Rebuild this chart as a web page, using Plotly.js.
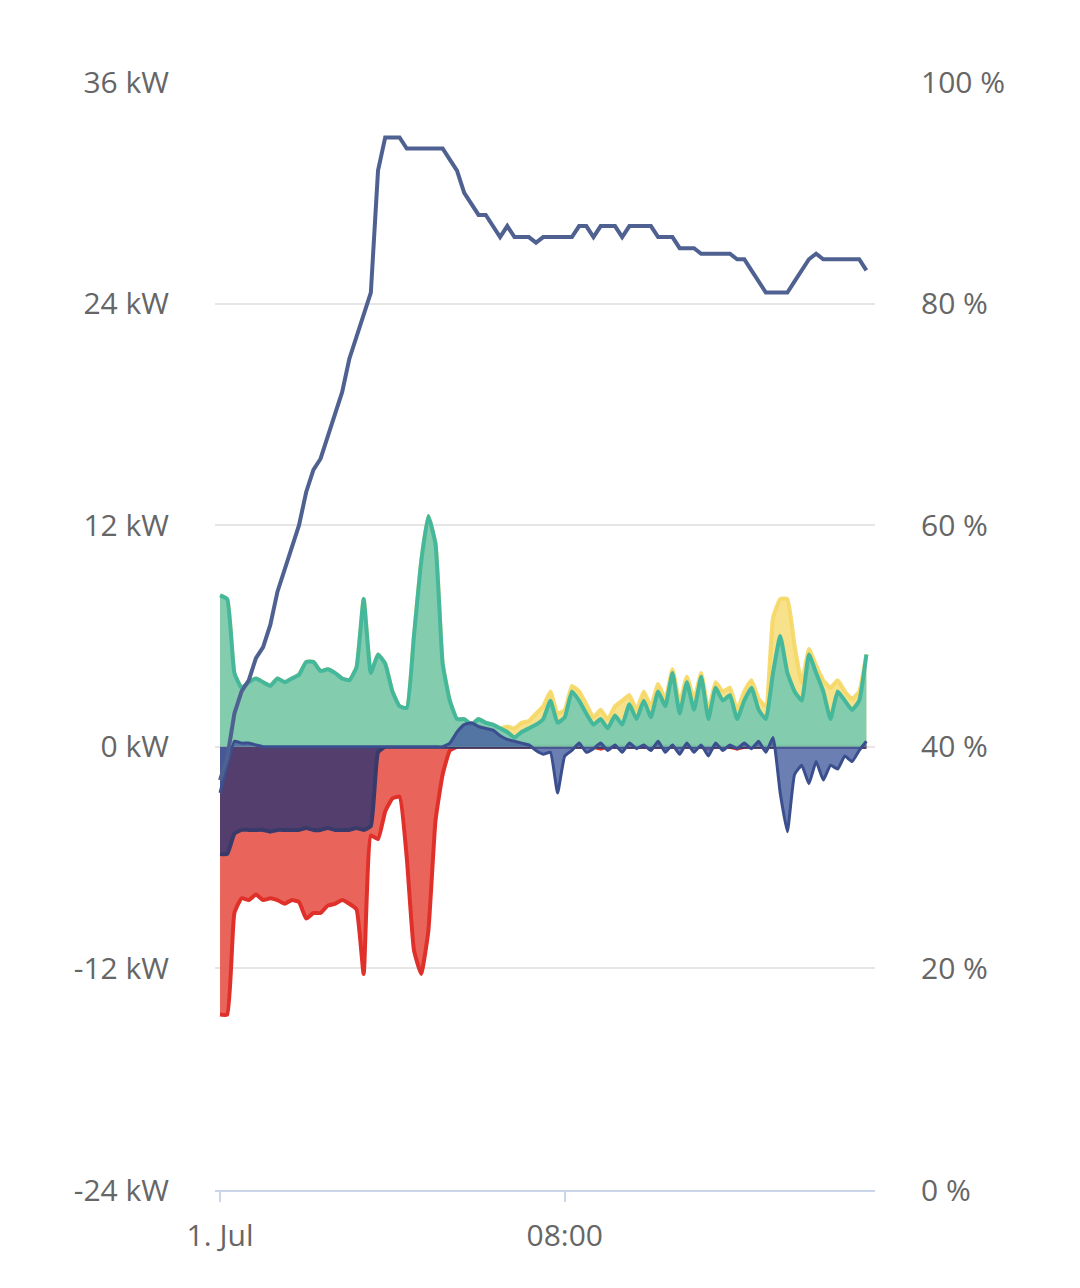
<!DOCTYPE html>
<html>
<head>
<meta charset="UTF-8">
<script src="https://cdn.plot.ly/plotly-3.0.1.min.js"></script>
<style>
  body { margin: 0; background: #fff; }
  #chart { width: 1080px; height: 1288px; }
</style>
</head>
<body>
<div id="chart"></div>
<script>
// 10-minute samples from 1 Jul 00:00
var startTime = '2023-07-01T00:00:00';
var stepMinutes = 10;

var soc = [37,39,43,45,46,48,49,51,54,56,58,60,63,65,66,68,70,72,75,77,79,81,92,95,95,95,94,94,94,94,
  94,94,93,92,90,89,88,88,87,86,87,86,86,86,85.5,86,86,86,86,86,87,87,86,87,87,87,86,87,87,87,
  87,86,86,86,85,85,85,84.5,84.5,84.5,84.5,84.5,84,84,83,82,81,81,81,81,82,83,84,84.5,84,84,84,84,84,84,83];

var solar = [8.2,8,4,3.2,3.5,3.7,3.5,3.3,3.7,3.5,3.7,3.9,4.6,4.6,4.1,4.2,4.0,3.7,3.6,4.3,8,4,5,4.5,3,2.2,2.1,6,10,12.5,
  11,4.5,2.5,1.5,1.5,1.2,1.5,1.3,1.2,1.0,0.8,0.5,0.8,1.0,1.2,1.5,2.5,1.3,1.6,3,2.5,1.8,1.2,1.5,1.0,1.7,1.2,2.3,1.5,2.5,
  1.6,3,2.2,4,1.8,3.5,2,3.8,1.5,3.2,2.5,2.8,1.5,2.5,3.2,2,1.5,4,6,4,3,2.5,5,4,3,1.5,3,2.5,2,2.5,5];

var solarTotal = [8.2,8,4,3.2,3.5,3.7,3.5,3.3,3.7,3.5,3.7,3.9,4.6,4.6,4.1,4.2,4.0,3.7,3.6,4.3,8,4,5,4.5,3,2.2,2.1,6,10,12.5,
  11,4.5,2.5,1.5,1.5,1.2,1.5,1.3,1.2,1.0,1.1,1.0,1.3,1.4,1.8,2.2,3.0,1.8,2.0,3.3,3.0,2.3,1.6,2.0,1.5,2.2,2.5,2.8,2.0,3.0,
  2.2,3.4,2.6,4.2,2.4,3.8,2.6,4.0,2.0,3.5,3.0,3.2,2.0,3.0,3.6,2.6,2.2,7,8,8,5.5,3.5,5.3,4.4,3.6,3.2,3.6,3,2.6,3,5];

var battery = [-2.5,-1,0.3,0.2,0.2,0.1,0,0,0,0,0,0,0,0,0,0,0,0,0,0,0,0,0,0,0,0,0,0,0,0,
  0,0,0.2,0.8,1.2,1.3,1.1,1.0,0.9,0.6,0.4,0.3,0.2,0.1,-0.2,-0.4,-0.3,-2.5,-0.5,-0.2,0.2,-0.3,-0.1,0.2,-0.2,0.1,-0.3,0.2,-0.1,0.1,
  -0.2,0.3,-0.3,0.1,-0.4,0.2,-0.3,0.1,-0.5,0.2,-0.2,0.1,-0.1,0.2,-0.1,0.3,-0.3,0.5,-2.5,-4.6,-1.5,-1,-2,-0.8,-1.8,-1,-1.2,-0.5,-0.8,-0.2,0.3];

var house = [-5.8,-5.8,-4.7,-4.5,-4.5,-4.5,-4.5,-4.6,-4.5,-4.5,-4.5,-4.5,-4.4,-4.5,-4.5,-4.4,-4.5,-4.5,-4.5,-4.4,-4.5,-4.3,-0.3,0,0,0,0,0,0,0,
  0,0,0,0,0,0,0,0,0,0,0,0,0,0,0,0,0,0,0,0,0,0,0,0,0,0,0,0,0,0,
  0,0,0,0,0,0,0,0,0,0,0,0,0,0,0,0,0,0,0,0,0,0,0,0,0,0,0,0,0,0,0];

var grid = [-14.5,-14.5,-9,-8.2,-8.3,-8,-8.3,-8.2,-8.3,-8.5,-8.3,-8.4,-9.3,-9,-9,-8.6,-8.5,-8.3,-8.5,-8.8,-12.3,-4.8,-5,-3.5,-2.8,-2.7,-6,-11,-12.3,-10,
  -4,-1.5,-0.2,0,0,0,0,0,0,0,0,0,0,0,0,0,0,0,0,0,0,0,0,-0.1,0,0,0,0,0,0,
  0,0,0,0,0,0,0,0,-0.1,0,0,0,-0.1,0,0,0,0,0,0,0,0,0,0,0,0,0,0,0,0,0,0];

var t0 = new Date(startTime).getTime();
var times = soc.map((_, i) => {
  var d = new Date(t0 + i * stepMinutes * 60000);
  var p = n => String(n).padStart(2, '0');
  return '2023-07-01 ' + p(d.getHours()) + ':' + p(d.getMinutes());
});

function area(y, line, fill, w) {
  return { x: times, y: y, type: 'scatter', mode: 'lines', fill: 'tozeroy',
    fillcolor: fill, line: { color: line, width: w || 4, shape: 'spline', smoothing: 0.4 }, hoverinfo: 'skip' };
}

var traces = [
  area(grid, '#e0302a', 'rgba(230,80,70,0.88)'),
  area(house, '#3a3a6a', 'rgba(75,60,110,0.95)'),
  area(solarTotal, 'rgba(245,215,100,0.9)', 'rgba(245,215,100,0.75)'),
  area(solar, '#45b89c', 'rgba(110,200,180,0.85)'),
  area(battery, '#3b4f8e', 'rgba(70,95,160,0.8)', 3),
  { x: times, y: soc, yaxis: 'y2', type: 'scatter', mode: 'lines',
    line: { color: '#4f6190', width: 4 }, hoverinfo: 'skip' }
];

var tickFont = { family: 'Open Sans, sans-serif', size: 30, color: '#666' };

var layout = {
  width: 1080, height: 1288,
  margin: { l: 215, r: 205, t: 82, b: 98 },
  showlegend: false,
  plot_bgcolor: '#fff', paper_bgcolor: '#fff',
  xaxis: {
    type: 'date',
    range: ['2023-06-30 23:53', '2023-07-01 15:12'],
    tickvals: ['2023-07-01 00:00', '2023-07-01 08:00'],
    ticktext: ['1. Jul', '08:00'],
    showgrid: false, showline: true, linecolor: '#ccd6eb', linewidth: 2,
    ticks: 'outside', tickcolor: '#ccd6eb', ticklen: 10, tickwidth: 2,
    tickfont: tickFont, zeroline: false, ticklabelstandoff: 8
  },
  yaxis: {
    range: [-24, 36], tickvals: [-24, -12, 0, 12, 24, 36],
    ticktext: ['-24 kW', '-12 kW', '0 kW', '12 kW', '24 kW', '36 kW'],
    gridcolor: '#e6e6e6', gridwidth: 2, zeroline: false,
    tickfont: tickFont, ticklabelstandoff: 45
  },
  yaxis2: {
    overlaying: 'y', side: 'right', range: [0, 100],
    tickvals: [0, 20, 40, 60, 80, 100],
    ticktext: ['0 %', '20 %', '40 %', '60 %', '80 %', '100 %'],
    showgrid: false, zeroline: false, tickfont: tickFont, ticklabelstandoff: 45
  }
};

Plotly.newPlot('chart', traces, layout, { staticPlot: true });
</script>
</body>
</html>
